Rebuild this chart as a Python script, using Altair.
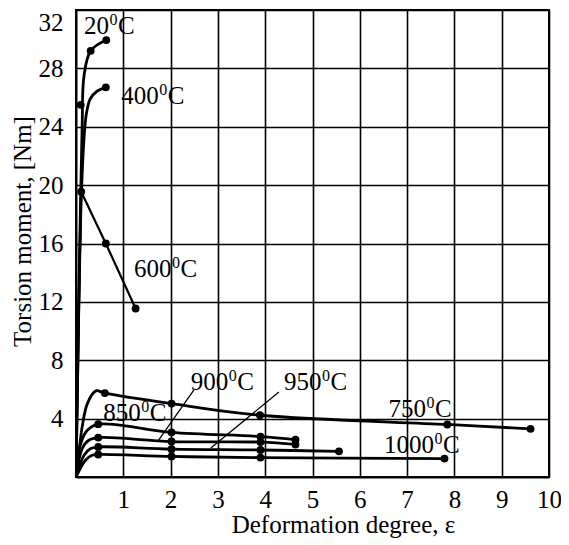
import altair as alt
import pandas as pd

# ---- curve data (deformation degree, torsion moment) ----
curve_names = ["20", "400", "600", "750", "850", "900", "950", "1000"]
x20 = [0, 0.04, 0.08, 0.13, 0.17, 0.31, 0.64]
y20 = [0, 8, 16, 24, 27.5, 29.2, 29.94]
x400 = [0, 0.05, 0.11, 0.17, 0.22, 0.30, 0.45, 0.63]
y400 = [0, 10, 19, 23.2, 24.9, 25.9, 26.45, 26.7]
x600 = [0, 0.05, 0.11, 0.63, 1.26]
y600 = [0, 10, 19.55, 16.0, 11.55]
x750 = [0, 0.06, 0.13, 0.24, 0.42, 0.61, 2.02, 3.89, 7.85, 9.61]
y750 = [0, 1.6, 3.43, 5.03, 5.9, 5.75, 5.03, 4.23, 3.6, 3.3]
x850 = [0, 0.10, 0.24, 0.47, 2.02, 3.90, 4.64]
y850 = [0, 2.29, 3.2, 3.62, 3.06, 2.77, 2.56]
x900 = [0, 0.13, 0.27, 0.47, 2.02, 3.90, 4.64]
y900 = [0, 1.95, 2.52, 2.70, 2.43, 2.39, 2.23]
x950 = [0, 0.17, 0.31, 0.47, 2.02, 3.90, 5.56]
y950 = [0, 1.49, 1.95, 2.06, 1.91, 1.85, 1.76]
x1000 = [0, 0.20, 0.34, 0.47, 2.02, 3.90, 7.79]
y1000 = [0, 1.15, 1.49, 1.54, 1.41, 1.33, 1.26]

# ---- measured points (dots) ----
dots_x = [0.31, 0.64, 0.10, 0.63, 0.11, 0.63, 1.26,
          0.61, 2.02, 3.89, 7.85, 9.61,
          0.47, 2.02, 3.90, 4.64,
          0.47, 2.02, 3.90, 4.64,
          0.47, 2.02, 3.90, 5.56,
          0.47, 2.02, 3.90, 7.79]
dots_y = [29.2, 29.94, 25.5, 26.7, 19.55, 16.0, 11.55,
          5.75, 5.03, 4.23, 3.6, 3.3,
          3.62, 3.06, 2.77, 2.56,
          2.70, 2.43, 2.39, 2.23,
          2.06, 1.91, 1.85, 1.76,
          1.54, 1.41, 1.33, 1.26]

# ---- curve labels: number, anchor (end of number), baseline ----
label_nums = ["20", "400", "600", "900", "950", "850", "750", "1000"]
label_x = [0.70, 1.75, 2.02, 3.22, 5.19, 1.37, 7.40, 7.57]
label_y = [30.36, 25.55, 13.72, 5.95, 5.95, 3.82, 4.12, 1.65]

# ---- leader lines ----
lead_x1 = [2.49, 4.29]
lead_y1 = [5.95, 5.83]
lead_x2 = [1.74, 2.85]
lead_y2 = [2.50, 1.98]

x_ticks = [1, 2, 3, 4, 5, 6, 7, 8, 9, 10]
y_ticks = [4, 8, 12, 16, 20, 24, 28, 32]

FONT = "Liberation Serif"
FS = 25

curves = {"20": (x20, y20), "400": (x400, y400), "600": (x600, y600),
          "750": (x750, y750), "850": (x850, y850), "900": (x900, y900),
          "950": (x950, y950), "1000": (x1000, y1000)}
rows = []
for name in curve_names:
    xs, ys = curves[name]
    for i, (a, b) in enumerate(zip(xs, ys)):
        rows.append({"series": name, "i": i, "x": a, "y": b})
df = pd.DataFrame(rows)
smooth_df = df[df.series != "600"]
lin_df = df[df.series == "600"]

dots_df = pd.DataFrame({"x": dots_x, "y": dots_y})
lab_df = pd.DataFrame({"num": label_nums, "x": label_x, "y": label_y,
                       "sup": ["0"] * len(label_nums), "c": ["C"] * len(label_nums)})
lead_df = pd.DataFrame({"x": lead_x1, "y": lead_y1, "x2": lead_x2, "y2": lead_y2})

X = alt.X("x:Q", scale=alt.Scale(domain=[0, 10], nice=False, zero=False),
          axis=alt.Axis(values=x_ticks, title="Deformation degree, ε", grid=True,
                        ticks=False, tickSize=0, labelPadding=10, labelFlush=False,
                        titleX=267, titleY=55, titleBaseline="alphabetic",
                        titleAlign="center"))
Y = alt.Y("y:Q", scale=alt.Scale(domain=[0, 32], nice=False, zero=False),
          axis=alt.Axis(values=y_ticks, title="Torsion moment, [Nm]", grid=True,
                        ticks=False, tickSize=0, labelPadding=13, labelFlush=True,
                        titleAngle=270, titleX=-46, titleY=221,
                        titleBaseline="alphabetic", titleAlign="center"))

smooth = alt.Chart(smooth_df).mark_line(
    interpolate="catmull-rom", color="black", strokeWidth=2.8, clip=True
).encode(x=X, y=Y, detail="series:N", order="i:Q")

lin = alt.Chart(lin_df).mark_line(color="black", strokeWidth=2.2).encode(
    x=alt.X("x:Q"), y=alt.Y("y:Q"), detail="series:N", order="i:Q")

dots = alt.Chart(dots_df).mark_circle(color="black", size=62, opacity=1).encode(
    x=alt.X("x:Q"), y=alt.Y("y:Q"))

leads = alt.Chart(lead_df).mark_rule(color="black", strokeWidth=1.3).encode(
    x=alt.X("x:Q"), y=alt.Y("y:Q"), x2="x2:Q", y2="y2:Q")

num_txt = alt.Chart(lab_df).mark_text(
    font=FONT, fontSize=FS, align="right", baseline="alphabetic", color="black"
).encode(x=alt.X("x:Q"), y=alt.Y("y:Q"), text="num:N")
sup_txt = alt.Chart(lab_df).mark_text(
    font=FONT, fontSize=16, align="left", baseline="alphabetic", dy=-9, dx=0.5,
    color="black"
).encode(x=alt.X("x:Q"), y=alt.Y("y:Q"), text="sup:N")
c_txt = alt.Chart(lab_df).mark_text(
    font=FONT, fontSize=FS, align="left", baseline="alphabetic", dx=9, color="black"
).encode(x=alt.X("x:Q"), y=alt.Y("y:Q"), text="c:N")

chart = alt.layer(smooth, lin, leads, dots, num_txt, sup_txt, c_txt).properties(
    width=473, height=467,
    autosize=alt.AutoSizeParams(type="none"),
    padding={"left": 68, "top": 2, "right": 12, "bottom": 62},
    background="white",
).configure_view(stroke="black", strokeWidth=2).configure_axis(
    labelFont=FONT, labelFontSize=FS, labelColor="black",
    titleFont=FONT, titleFontSize=FS, titleColor="black", titleFontWeight="normal",
    domainColor="black", domainWidth=2, gridColor="black", gridWidth=1.6,
    gridOpacity=1,
)

chart.save("out.html", embed_options={"renderer": "svg", "actions": False})
